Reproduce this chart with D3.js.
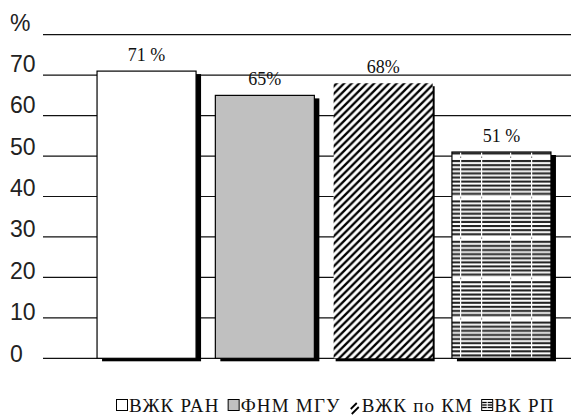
<!DOCTYPE html>
<html>
<head>
<meta charset="utf-8">
<script src="https://cdn.jsdelivr.net/npm/d3@7"></script>
<style>
  html, body { margin: 0; padding: 0; background: #fff; }
  svg { display: block; }
</style>
</head>
<body>
<svg id="chart" width="572" height="416"></svg>
<script>
// Share of respondents per organisation, percent
const categories = ["ВЖК РАН", "ФНМ МГУ", "ВЖК по КМ", "ВК РП"];
const values = [71, 65, 68, 51];
const labelSuffix = [" %", "%", "%", " %"];
const tickValues = [0, 10, 20, 30, 40, 50, 60, 70, 80];
const tickLabels = ["0", "10", "20", "30", "40", "50", "60", "70", "%"];

const svg = d3.select("#chart");

const y = d3.scaleLinear().domain([0, 80]).range([358.3, 34.7]);
// tick text sits slightly above each rule, on its own spacing
const yText = d3.scaleLinear().domain([0, 80]).range([353.5, 22.6]);
const x = d3.scaleBand().domain(categories).range([87.4, 560.6])
  .paddingInner(0.163).paddingOuter(0.0815);

// fill patterns
const defs = svg.append("defs");
const hatch = defs.append("pattern").attr("id", "hatch")
  .attr("patternUnits", "userSpaceOnUse").attr("width", 7.5).attr("height", 7.5);
hatch.append("rect").attr("width", 7.5).attr("height", 7.5).attr("fill", "#fff");
hatch.append("path").attr("d", "M-1,8.5 L8.5,-1 M-2,2 L2,-2 M5.5,9.5 L9.5,5.5")
  .attr("stroke", "#000").attr("stroke-width", 2.3);

const lines = defs.append("pattern").attr("id", "hlines")
  .attr("patternUnits", "userSpaceOnUse").attr("width", 50).attr("height", 40.4)
  .attr("x", 452).attr("y", 158);
lines.append("rect").attr("width", 50).attr("height", 40.4).attr("fill", "#fff");
d3.range(9).forEach(i => {
  lines.append("rect").attr("x", 0).attr("y", 2 + i * 4.1).attr("width", 50)
    .attr("height", 2.1).attr("fill", "#222");
});
[8, 29].forEach(gx => {
  lines.append("rect").attr("x", gx).attr("y", 0).attr("width", 1.2)
    .attr("height", 40.4).attr("fill", "#fff");
  lines.append("rect").attr("x", gx).attr("y", 39).attr("width", 1.2)
    .attr("height", 1.2).attr("fill", "#666");
});

const fills = ["#ffffff", "#c0c0c0", "url(#hatch)", "url(#hlines)"];
const strokes = ["#000", "#000", "none", "#000"];

// horizontal rules
svg.append("g").selectAll("line").data(tickValues).join("line")
  .attr("x1", 43).attr("x2", 571)
  .attr("y1", d => y(d)).attr("y2", d => y(d))
  .attr("stroke", "#111").attr("stroke-width", 1.2);

// tick labels
svg.append("g").selectAll("text").data(tickValues).join("text")
  .attr("x", 10).attr("y", d => yText(d))
  .attr("dominant-baseline", "central")
  .attr("font-family", "Liberation Sans, Arial, sans-serif")
  .attr("font-size", 23).attr("fill", "#222")
  .text((d, i) => tickLabels[i]);

// bars with a drop shadow
const bars = svg.append("g");
bars.selectAll("rect.shadow").data(values).join("rect").attr("class", "shadow")
  .attr("x", (d, i) => x(categories[i]) + (i === 2 ? 2 : 5))
  .attr("y", d => y(d) + 3)
  .attr("width", x.bandwidth())
  .attr("height", d => y(0) - y(d))
  .attr("fill", "#000");
bars.selectAll("rect.bar").data(values).join("rect").attr("class", "bar")
  .attr("x", (d, i) => x(categories[i]))
  .attr("y", d => y(d))
  .attr("width", x.bandwidth())
  .attr("height", d => y(0) - y(d))
  .attr("fill", (d, i) => fills[i])
  .attr("stroke", (d, i) => strokes[i]).attr("stroke-width", 1.2);

// value labels
svg.append("g").selectAll("text").data(values).join("text")
  .attr("x", (d, i) => x(categories[i]) + x.bandwidth() / 2)
  .attr("y", d => y(d) - 10.5)
  .attr("text-anchor", "middle")
  .attr("font-family", "Liberation Serif, Times New Roman, serif")
  .attr("font-size", 18).attr("fill", "#111")
  .text((d, i) => d + labelSuffix[i]);

// legend
const legend = svg.append("g").attr("transform", "translate(0,405)");
let lx = 116;
categories.forEach((c, i) => {
  const g = legend.append("g").attr("transform", `translate(${lx},0)`);
  if (i === 2) {
    g.append("path").attr("d", "M2,4 L8,-2 M3,9 L10,2")
      .attr("stroke", "#000").attr("stroke-width", 1.8);
  } else {
    g.append("rect").attr("x", 0.5).attr("y", -5.5).attr("width", 11).attr("height", 11)
      .attr("fill", i === 3 ? "#fff" : fills[i]).attr("stroke", "#000").attr("stroke-width", 1);
    if (i === 3) {
      [-2.5, 0, 2.5].forEach(dy => g.append("line").attr("x1", 1).attr("x2", 11)
        .attr("y1", dy).attr("y2", dy).attr("stroke", "#000").attr("stroke-width", 1.3));
      g.append("line").attr("x1", 6).attr("x2", 6).attr("y1", -5).attr("y2", 5)
        .attr("stroke", "#fff").attr("stroke-width", 1);
    }
  }
  const t = g.append("text").attr("x", 13).attr("y", 0)
    .attr("dominant-baseline", "central")
    .attr("font-family", "Liberation Serif, Times New Roman, serif")
    .attr("font-size", 19).attr("letter-spacing", 1.2).attr("fill", "#111").text(c);
  lx += 13 + t.node().getComputedTextLength() + 8;
});
</script>
</body>
</html>
